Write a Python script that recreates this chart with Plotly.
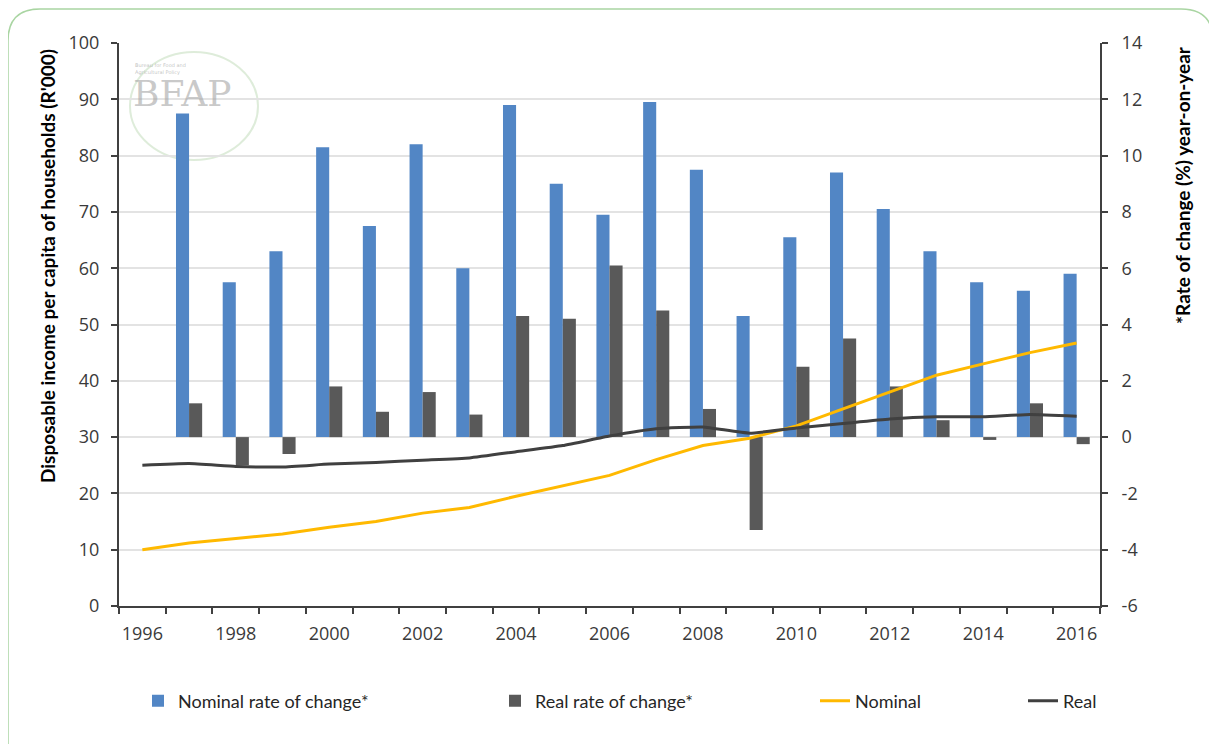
import plotly.graph_objects as go

# ---------------- data ----------------
years = list(range(1996, 2017))
rate_years = list(range(1997, 2017))

nominal_rate = [11.5, 5.5, 6.6, 10.3, 7.5, 10.4, 6.0, 11.8, 9.0, 7.9,
                11.9, 9.5, 4.3, 7.1, 9.4, 8.1, 6.6, 5.5, 5.2, 5.8]
real_rate = [1.2, -1.0, -0.6, 1.8, 0.9, 1.6, 0.8, 4.3, 4.2, 6.1,
             4.5, 1.0, -3.3, 2.5, 3.5, 1.8, 0.6, -0.1, 1.2, -0.25]

nominal_income = [10.0, 11.2, 12.0, 12.8, 14.0, 15.0, 16.5, 17.5, 19.5, 21.3,
                  23.2, 26.0, 28.5, 29.8, 32.0, 35.0, 38.0, 41.0, 43.0, 45.0, 46.7]
real_income = [25.0, 25.3, 24.8, 24.7, 25.2, 25.5, 25.9, 26.3, 27.4, 28.5,
               30.2, 31.5, 31.8, 30.7, 31.6, 32.4, 33.2, 33.6, 33.6, 34.0, 33.7]

xtick_vals = list(range(1996, 2017, 2))
xtick_text = [str(v) for v in xtick_vals]
left_ticks = list(range(0, 101, 10))
right_ticks = list(range(-6, 15, 2))
right_tick_text = [str(v) for v in right_ticks]

# ---------------- layout geometry (window pixels) ----------------
OFF = 8                     # page body margin
W, H = 1217 - OFF, 744 - OFF
L, R, T, B = 119, 1100, 43, 606  # plot area edges in window pixels


def px(x):
    return (x - L) / (R - L)


def py(y):
    return (B - y) / (B - T)


BLUE = "#5286C5"
GREY = "#595959"
YELLOW = "#FFB900"
DARK = "#404040"
TICKFONT = dict(family="Open Sans", size=18, color="#3A3A3A")

fig = go.Figure()

fig.add_trace(go.Bar(x=rate_years, y=nominal_rate, name="Nominal rate of change*",
                     marker=dict(color=BLUE, line=dict(width=0)), yaxis="y",
                     legend="legend"))
fig.add_trace(go.Bar(x=rate_years, y=real_rate, name="Real rate of change*",
                     marker=dict(color=GREY, line=dict(width=0)), yaxis="y",
                     legend="legend2"))
fig.add_trace(go.Scatter(x=years, y=nominal_income, name="Nominal", mode="lines",
                         line=dict(color=YELLOW, width=3), yaxis="y2",
                         legend="legend3"))
fig.add_trace(go.Scatter(x=years, y=real_income, name="Real", mode="lines",
                         line=dict(color=DARK, width=3, shape="spline", smoothing=0.4),
                         yaxis="y2", legend="legend4"))

legend_common = dict(orientation="h", yanchor="middle", y=py(701), xanchor="left",
                     bgcolor="rgba(0,0,0,0)", borderwidth=0,
                     font=dict(family="Lato", size=18, color="#262626"))

fig.update_layout(
    width=W, height=H,
    margin=dict(l=L - OFF, r=W - (R - OFF), t=T - OFF, b=H - (B - OFF)),
    paper_bgcolor="white", plot_bgcolor="white",
    barmode="group", bargap=0.44, bargroupgap=0,
    xaxis=dict(range=[1995.5, 2016.5], tickmode="array", tickvals=xtick_vals,
               ticktext=xtick_text, ticks="", showgrid=False, zeroline=False,
               showline=True, linecolor=DARK, linewidth=2, tickfont=TICKFONT,
               ticklabelstandoff=10,
               minor=dict(tickmode="array", tickvals=[y + 0.5 for y in range(1995, 2017)],
                          ticks="outside", ticklen=6, tickwidth=2, tickcolor=DARK,
                          showgrid=False)),
    yaxis=dict(range=[-6, 14], tickmode="array", tickvals=right_ticks,
               ticktext=right_tick_text, side="right",
               showgrid=True, gridcolor="#E3E3E3", gridwidth=1.5, zeroline=False,
               showline=True, linecolor=DARK, linewidth=2, ticks="outside",
               ticklen=6, tickwidth=2, tickcolor=DARK, tickfont=TICKFONT,
               ticklabelstandoff=10),
    yaxis2=dict(range=[0, 100], tickmode="array", tickvals=left_ticks, side="left",
                overlaying="y", showgrid=False, zeroline=False,
                showline=True, linecolor=DARK, linewidth=2, ticks="outside",
                ticklen=6, tickwidth=2, tickcolor=DARK, tickfont=TICKFONT,
                ticklabelstandoff=8),
    legend=dict(legend_common, x=px(138)),
    legend2=dict(legend_common, x=px(495)),
    legend3=dict(legend_common, x=px(815)),
    legend4=dict(legend_common, x=px(1023)),
    showlegend=True,
)

# axis titles
fig.add_annotation(text="<b>Disposable income per capita of households (R'000)</b>",
                   xref="paper", yref="paper", x=px(47), y=py(266), textangle=-90,
                   showarrow=False, font=dict(family="Lato", size=19, color="black"),
                   xanchor="center", yanchor="middle")
fig.add_annotation(text="<b>*Rate of change (%) year-on-year</b>",
                   xref="paper", yref="paper", x=px(1183), y=py(185), textangle=-90,
                   showarrow=False, font=dict(family="Lato", size=19, color="black"),
                   xanchor="center", yanchor="middle")

# faint BFAP watermark
fig.add_shape(type="circle", xref="paper", yref="paper", x0=px(130), x1=px(258),
              y0=py(160), y1=py(52), line=dict(color="rgba(160,200,150,0.35)", width=2),
              fillcolor="rgba(0,0,0,0)", layer="below")
fig.add_annotation(text="BFAP", xref="paper", yref="paper", x=px(182), y=py(93),
                   xanchor="center", yanchor="middle",
                   showarrow=False, font=dict(family="DejaVu Serif", size=36,
                                              color="rgba(165,165,165,0.6)"))
fig.add_annotation(text="Bureau for Food and<br>Agricultural Policy", xref="paper",
                   yref="paper", x=px(133), y=py(60), xanchor="left", yanchor="top",
                   showarrow=False, align="left",
                   font=dict(family="DejaVu Sans", size=5, color="rgba(150,150,150,0.6)"))

# rounded outer frame
x0, y0, x1, y1, r = 8, 9, 1213, 800, 32
path = (f"M {px(x0)},{py(y1)} L {px(x0)},{py(y0 + r)} "
        f"Q {px(x0)},{py(y0)} {px(x0 + r)},{py(y0)} "
        f"L {px(x1 - r)},{py(y0)} Q {px(x1)},{py(y0)} {px(x1)},{py(y0 + r)} "
        f"L {px(x1)},{py(y1)}")
fig.add_shape(type="path", xref="paper", yref="paper", path=path,
              line=dict(color="#A9D5A2", width=1.5), layer="below")

fig.write_html("out.html")
